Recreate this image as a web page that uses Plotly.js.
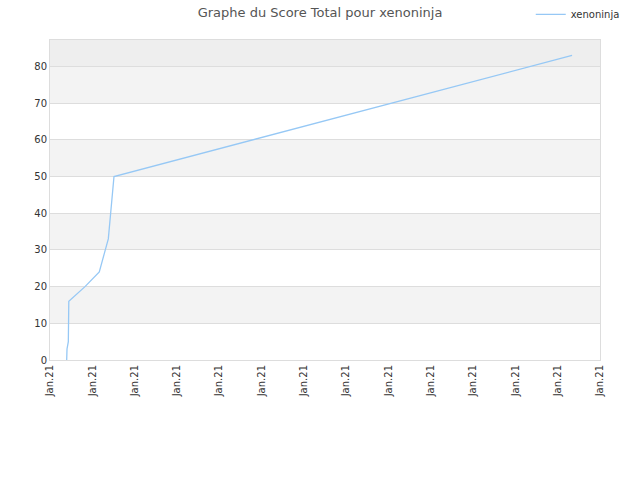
<!DOCTYPE html>
<html>
<head>
<meta charset="utf-8">
<script src="https://cdn.plot.ly/plotly-3.0.1.min.js"></script>
<style>
  html, body { margin: 0; padding: 0; background: #fff; }
  #plot { width: 640px; height: 480px; }
</style>
</head>
<body>
<div id="plot"></div>
<script>
// score history for xenoninja
let playerName = 'xenoninja';
let dates = [
  '2021-01-01 18:56', '2021-01-01 19:18', '2021-01-01 20:48', '2021-01-01 21:12',
  '2021-01-01 21:20', '2021-01-02 15:43', '2021-01-03 07:55', '2021-01-03 13:36',
  '2021-01-03 18:09', '2021-01-03 20:04', '2021-01-03 22:00', '2021-01-04 00:36',
  '2021-01-25 16:19'
];
let scores = [0, 3, 5, 9, 16, 20, 24, 29, 33, 38, 44, 50, 83];

// alternating background bands
function makeBands() {
  let shapes = [];
  for (let v = 10; v < 80; v += 20) {
    shapes.push({
      type: 'rect', xref: 'paper', yref: 'y', x0: 0, x1: 1, y0: v, y1: v + 10,
      fillcolor: '#f3f3f3', line: {width: 0}, layer: 'below'
    });
  }
  shapes.push({
    type: 'rect', xref: 'paper', yref: 'y', x0: 0, x1: 1, y0: 80, y1: 87.2,
    fillcolor: '#eeeeee', line: {width: 0}, layer: 'below'
  });
  return shapes;
}

let trace = {
  x: dates,
  y: scores,
  type: 'scatter',
  mode: 'lines',
  name: playerName,
  line: {color: 'rgb(150,200,245)', width: 1.3}
};

let layout = {
  width: 640,
  height: 480,
  margin: {l: 50, r: 40, t: 40, b: 120, autoexpand: false},
  paper_bgcolor: '#fff',
  plot_bgcolor: '#fff',
  font: {family: 'DejaVu Sans, sans-serif', size: 10, color: '#333'},
  title: {
    text: 'Graphe du Score Total pour ' + playerName,
    font: {size: 13, color: '#555'},
    x: 0.5, xanchor: 'center', y: 0.975, yanchor: 'middle'
  },
  showlegend: true,
  legend: {
    x: 1.045, xanchor: 'right', y: 1.08, yanchor: 'middle',
    orientation: 'h', font: {size: 10, color: '#333'}, bgcolor: 'rgba(0,0,0,0)'
  },
  xaxis: {
    type: 'date',
    range: ['2021-01-01', '2021-01-27'],
    dtick: 2 * 24 * 3600 * 1000,
    tick0: '2021-01-01',
    tickformat: '%b.%y',
    tickangle: -90,
    showgrid: false,
    zeroline: false,
    showline: true, mirror: true, linecolor: '#ddd', linewidth: 1,
    ticks: '', ticklen: 0,
    tickfont: {size: 10, color: '#333'}
  },
  yaxis: {
    range: [0, 87.2],
    dtick: 10,
    showgrid: true, gridcolor: '#dddddd', gridwidth: 1,
    zeroline: false,
    showline: true, mirror: true, linecolor: '#ddd', linewidth: 1,
    ticks: '', ticklen: 0,
    tickfont: {size: 10, color: '#333'}
  },
  shapes: makeBands()
};

Plotly.newPlot('plot', [trace], layout, {displayModeBar: false, staticPlot: true});
</script>
</body>
</html>
